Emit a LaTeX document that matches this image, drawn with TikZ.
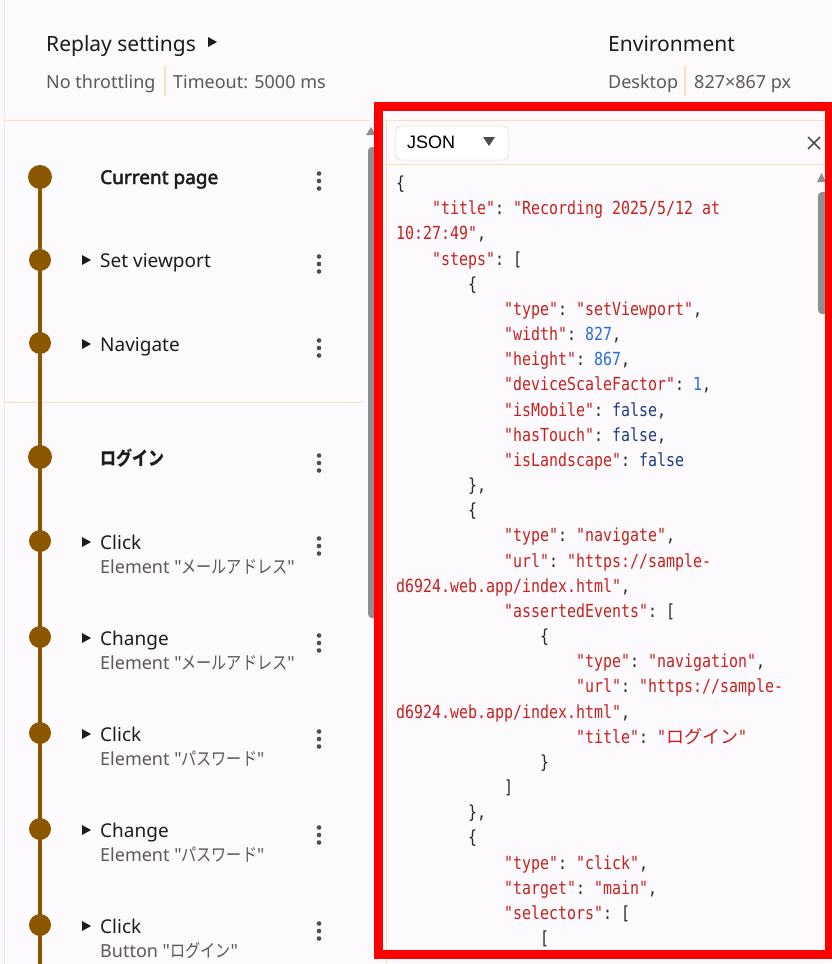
\documentclass[tikz,border=0pt]{standalone}
\usepackage{fontspec}
\setmainfont{Noto Sans}[Ligatures=TeXOff, BoldFont={Noto Sans}, BoldFeatures={FakeBold=2.5}]
\newfontfamily\cjk[FakeStretch=0.84]{Noto Sans CJK JP}
\newfontfamily\jsonfont[FakeStretch=0.83]{DejaVu Sans Mono}
\newfontfamily\jsoncjk{Noto Sans CJK JP}
\newfontfamily\uifont{Liberation Sans}

\definecolor{pagebg}{RGB}{253,250,253}
\definecolor{edgeline}{RGB}{244,234,224}
\definecolor{rulebeige}{RGB}{251,224,186}
\definecolor{tlbrown}{RGB}{139,86,0}
\definecolor{titleblack}{RGB}{28,27,31}
\definecolor{subgrey}{RGB}{94,88,84}
\definecolor{dotgrey}{RGB}{82,76,72}
\definecolor{scrollgrey}{RGB}{143,143,143}
\definecolor{menuborder}{RGB}{212,202,192}
\definecolor{jsonred}{RGB}{197,34,31}
\definecolor{jsonblue}{RGB}{38,110,222}
\definecolor{jsonnavy}{RGB}{30,58,128}
\definecolor{jsondark}{RGB}{40,38,38}

% colours of the json values
\newcommand{\jk}[1]{\textcolor{jsonred}{#1}}
\newcommand{\jn}[1]{\textcolor{jsonblue}{#1}}
\newcommand{\jb}[1]{\textcolor{jsonnavy}{#1}}
% one line of the json text: row, indent (characters), content
\newcommand{\jline}[3]{\node[jsontext] (j#1) at ({396+9*#2},{189.5+25.17*#1}) {#3};}

\begin{document}
\begin{tikzpicture}[x=1pt, y=-1pt,
    rule/.style={draw=rulebeige, line width=1pt},
    hdtitle/.style={anchor=base west, inner sep=0pt, text=titleblack, font={\fontsize{21}{24}\selectfont}},
    hdinfo/.style={anchor=base west, inner sep=0pt, text=subgrey, font={\fontsize{18}{21}\selectfont}},
    steptitle/.style={anchor=base west, inner sep=0pt, text=titleblack, font={\fontsize{19}{22}\selectfont}},
    sectitle/.style={anchor=base west, inner sep=0pt, text=titleblack, font={\fontsize{19}{22}\selectfont\bfseries}},
    stepsub/.style={anchor=base west, inner sep=0pt, text=subgrey, font={\fontsize{18}{21}\selectfont}},
    secdot/.style={circle, fill=tlbrown, inner sep=0pt, minimum size=24pt},
    stepdot/.style={circle, fill=tlbrown, inner sep=0pt, minimum size=22pt},
    timeline/.style={draw=tlbrown, line width=3.5pt},
    jsontext/.style={anchor=base west, inner sep=0pt, text=jsondark, font={\jsonfont\fontsize{18}{22}\selectfont\frenchspacing}},
    redframe/.style={draw=red, line width=9pt}
  ]
    % Page background, fixed to the size of the screenshot
    \fill[pagebg] (0,0) rectangle (831,964);
    \useasboundingbox (0,0) rectangle (831,964);
    \draw[draw=edgeline, line width=1pt] (4,0) -- (4,964);

    % Header: replay settings and environment
    \node[hdtitle] (replay) at (46,51) {Replay settings};
    \fill[titleblack] (208,37) -- (217,42) -- (208,47) -- cycle;
    \node[hdinfo] (throttle) at (46,88) {No throttling};
    \draw[rule, line width=1.5pt] (165,66) -- (165,96);
    \node[hdinfo] (timeout) at (173,88) {Timeout: 5000 ms};
    \node[hdtitle] (env) at (608,51) {Environment};
    \node[hdinfo] (desktop) at (608,88) {Desktop};
    \draw[rule, line width=1.5pt] (685,66) -- (685,96);
    \node[hdinfo] (size) at (694,88) {827×867 px};

    % Rules of the step list
    \draw[rule] (4,120) -- (370,120);
    \draw[rule] (4,402) -- (362,402);

    % Timeline dots
    \node[secdot] (dCurrent) at (40,177) {};
    \node[stepdot] (dViewport) at (40,260) {};
    \node[stepdot] (dNavigate) at (40,343) {};
    \node[secdot] (dLogin) at (40,457) {};
    \node[stepdot] (dClickMail) at (40,541) {};
    \node[stepdot] (dChangeMail) at (40,637) {};
    \node[stepdot] (dClickPass) at (40,733) {};
    \node[stepdot] (dChangePass) at (40,829) {};
    \node[stepdot] (dClickLogin) at (40,925) {};
    \coordinate (tlend) at (40,964);
    \draw[timeline] (dCurrent.center) -- (dClickLogin.center) -- (tlend);

    % Step titles
    \node[sectitle] (tCurrent) at (100,184) {Current page};
    \node[steptitle] (tViewport) at (100,267) {Set viewport};
    \node[steptitle] (tNavigate) at (100,351) {Navigate};
    \node[sectitle] (tLogin) at (100,465) {\cjk ログイン};
    \node[steptitle] (tClickMail) at (100,549) {Click};
    \node[stepsub] (sClickMail) at (100,573) {Element "{\cjk メールアドレス}"};
    \node[steptitle] (tChangeMail) at (100,645) {Change};
    \node[stepsub] (sChangeMail) at (100,669) {Element "{\cjk メールアドレス}"};
    \node[steptitle] (tClickPass) at (100,741) {Click};
    \node[stepsub] (sClickPass) at (100,765) {Element "{\cjk パスワード}"};
    \node[steptitle] (tChangePass) at (100,837) {Change};
    \node[stepsub] (sChangePass) at (100,861) {Element "{\cjk パスワード}"};
    \node[steptitle] (tClickLogin) at (100,933) {Click};
    \node[stepsub] (sClickLogin) at (100,957) {Button "{\cjk ログイン}"};

    % Expand triangles and menus
    \foreach \y in {260,344,542,638,734,830,926}
        \fill[titleblack] (82,\y-5) -- (91,\y) -- (82,\y+5) -- cycle;
    \foreach \y in {181,264,348,463,546,643,739,835,931}
        \foreach \d in {-7.5,0,7.5}
            \fill[dotgrey] (319,\y+\d) circle (2.3pt);

    % Scrollbar of the step list
    \fill[scrollgrey] (366,135) -- (371,127) -- (376,135) -- cycle;
    \fill[scrollgrey, rounded corners=4pt] (368,147) rectangle (382,618);

    % Code panel
    \draw[rule] (383,120) -- (826,120);
    \draw[rule] (386,164) -- (826,164);
    \draw[rule] (386,120) -- (386,964);
    \draw[draw=menuborder, fill=white, rounded corners=5pt] (396,126) rectangle (508,160);
    \node[anchor=base west, inner sep=0pt, text=black, font={\uifont\fontsize{18}{21}\selectfont}] (menu) at (407,148) {JSON};
    \fill[dotgrey] (483,137) -- (495,137) -- (489,146) -- cycle;
    \draw[dotgrey, line width=1.6pt] (808,137) -- (820,149) (808,149) -- (820,137);
    \fill[scrollgrey] (817,182) -- (821.5,173) -- (826,182) -- cycle;
    \fill[scrollgrey, rounded corners=4pt] (818,192) rectangle (832,314);

    % JSON text
    \jline{0}{0}{\{}
    \jline{1}{4}{\jk{"title"}: \jk{"Recording 2025/5/12 at}}
    \jline{2}{0}{\jk{10:27:49"},}
    \jline{3}{4}{\jk{"steps"}: [}
    \jline{4}{8}{\{}
    \jline{5}{12}{\jk{"type"}: \jk{"setViewport"},}
    \jline{6}{12}{\jk{"width"}: \jn{827},}
    \jline{7}{12}{\jk{"height"}: \jn{867},}
    \jline{8}{12}{\jk{"deviceScaleFactor"}: \jn{1},}
    \jline{9}{12}{\jk{"isMobile"}: \jb{false},}
    \jline{10}{12}{\jk{"hasTouch"}: \jb{false},}
    \jline{11}{12}{\jk{"isLandscape"}: \jb{false}}
    \jline{12}{8}{\},}
    \jline{13}{8}{\{}
    \jline{14}{12}{\jk{"type"}: \jk{"navigate"},}
    \jline{15}{12}{\jk{"url"}: \jk{"https://sample-}}
    \jline{16}{0}{\jk{d6924.web.app/index.html"},}
    \jline{17}{12}{\jk{"assertedEvents"}: [}
    \jline{18}{16}{\{}
    \jline{19}{20}{\jk{"type"}: \jk{"navigation"},}
    \jline{20}{20}{\jk{"url"}: \jk{"https://sample-}}
    \jline{21}{0}{\jk{d6924.web.app/index.html"},}
    \jline{22}{20}{\jk{"title"}: \jk{"{\jsoncjk ログイン}"}}
    \jline{23}{16}{\}}
    \jline{24}{12}{]}
    \jline{25}{8}{\},}
    \jline{26}{8}{\{}
    \jline{27}{12}{\jk{"type"}: \jk{"click"},}
    \jline{28}{12}{\jk{"target"}: \jk{"main"},}
    \jline{29}{12}{\jk{"selectors"}: [}
    \jline{30}{16}{[}

    % Red highlight frame
    \draw[redframe] (378.5,106.5) rectangle (829.5,954.5);
\end{tikzpicture}
\end{document}
